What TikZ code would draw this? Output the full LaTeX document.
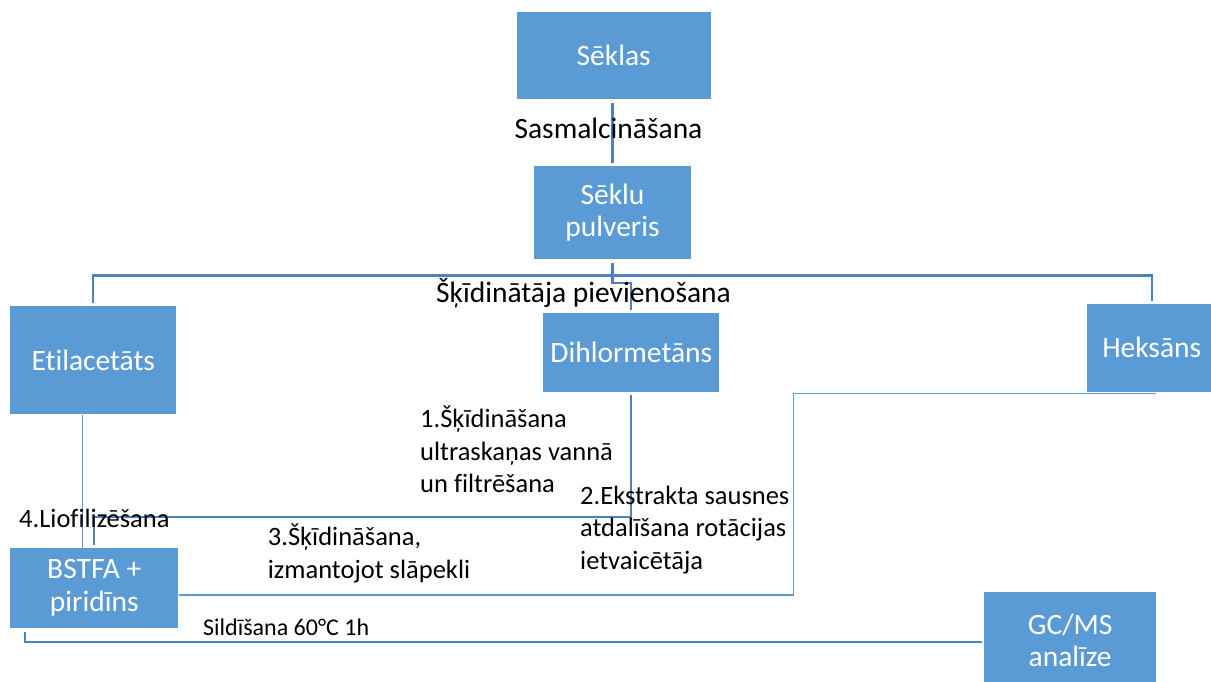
\documentclass[tikz,border=0pt]{standalone}
\usepackage{fontspec}
\setmainfont{Carlito}[Ligatures=NoCommon]
\usetikzlibrary{calc}
\definecolor{boxblue}{HTML}{5B9BD5}
\definecolor{linedark}{HTML}{4F81BD}
\definecolor{linelight}{HTML}{5B9BD5}
\newcommand\bigf{\fontsize{29.5}{32.7}\selectfont}
\newcommand\smallf{\fontsize{26.5}{32.4}\selectfont}
\newcommand\tinyf{\fontsize{24}{28}\selectfont}
\tikzset{
  box/.style={fill=boxblue, draw=none, text=white, font=\bigf, align=center, inner sep=0pt},
  conn/.style={draw=linedark, line width=2.2pt},
  connthin/.style={draw=linelight, line width=1.2pt},
  lab/.style={font=\smallf, align=left, inner sep=0pt, anchor=base west},
  bigl/.style={font=\bigf, inner sep=0pt, anchor=base}
}
\begin{document}
\begin{tikzpicture}[x=1pt,y=-1pt]
\useasboundingbox (0,0) rectangle (1211,681);
\clip (0,0) rectangle (1211,681);
\fill[white] (0,0) rectangle (1211,681);

% boxes
\node[box, minimum width=194pt, minimum height=87.6pt] (seklas) at (613.7,55.5) {Sēklas};
\node[box, minimum width=156.4pt, minimum height=93.6pt] (pulv) at (612.5,212.5) {Sēklu\\pulveris};
\node[box, minimum width=166pt, minimum height=108pt] (etil) at (93.3,360.3) {Etilacetāts};
\node[box, minimum width=176pt, minimum height=78.7pt] (dihl) at (631.3,352.3) {Dihlormetāns};
\node[box, minimum width=130pt, minimum height=87.7pt] (heks) at (1151.7,347.8) {Heksāns};
\node[box, minimum width=168pt, minimum height=80.6pt] (bstfa) at (94.3,588) {BSTFA +\\piridīns};
\node[box, minimum width=171.7pt, minimum height=96.4pt] (gcms) at (1070.2,640.5) {GC/MS\\analīze};

% connectors
\draw[conn] ($(pulv.north|-seklas.south)+(0,3)$) -- ($(pulv.north)+(0,-3)$);
\draw[conn] ($(pulv.south)+(0,3)$) -- ++(0,13) -| ($(etil.north)+(0,-3)$);
\draw[conn] ($(pulv.south)+(0,3)$) -- ++(0,13) -| ($(heks.north)+(0,-2.3)$);
\draw[conn] ($(pulv.south)+(0,3)$) -- ++(0,20.4) -| ($(dihl.north)+(0,-3)$);
\draw[conn] ($(dihl.south)+(0,3.3)$) -- ($(dihl.south |- bstfa.north)+(0,-30.4)$) -| ($(bstfa.north)+(0,-2.7)$);
\draw[connthin] ($(etil.south)+(-11,0.7)$) -- ($(bstfa.north)+(-12,0)$);
\draw[connthin] ($(heks.south)+(4.3,1.3)$) -- ++(-362.7,0) |- ($(bstfa.east)+(0,7)$);
\draw[conn] ($(bstfa.south west)+(14.7,3.4)$) |- ($(gcms.west)+(-2.6,1.2)$);

% labels
\node[bigl] (l0) at (608.5,138) {Sasmalcināšana};
\node[bigl] (lsk) at (583.5,302) {Šķīdinātāja pievienošana};
\node[lab] (l1) at (420,492.7) {1.Šķīdināšana\\ultraskaņas vannā\\un filtrēšana};
\node[lab] (l2) at (580,569.3) {2.Ekstrakta sausnes\\atdalīšana rotācijas\\ietvaicētāja};
\node[lab] (l3) at (267.7,578.3) {3.Šķīdināšana,\\izmantojot slāpekli};
\node[lab] (l4) at (19,527.7) {4.Liofilizēšana};
\node[lab, font=\tinyf] (l5) at (203,635.7) {Sildīšana 60°C 1h};
\end{tikzpicture}
\end{document}
